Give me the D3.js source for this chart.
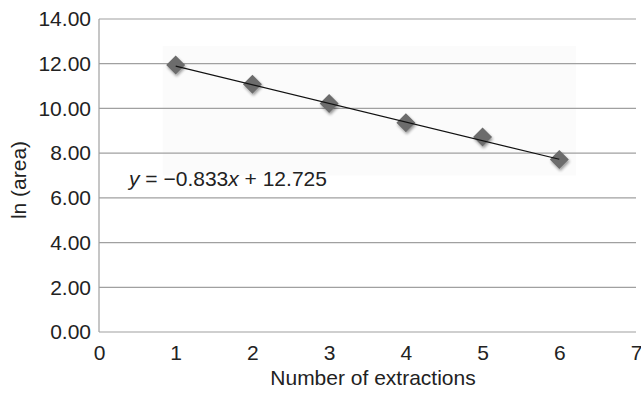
<!DOCTYPE html>
<html><head><meta charset="utf-8">
<script src="https://cdn.jsdelivr.net/npm/d3@7"></script>
<style>body{margin:0;background:#fff}svg{display:block;font-family:"Liberation Sans",Arial,sans-serif}</style>
</head><body><svg id="c" width="641" height="394"></svg>
<script>
const extractions = [1, 2, 3, 4, 5, 6];
const lnArea = [11.94, 11.08, 10.22, 9.36, 8.72, 7.72];
const slope = -0.833, intercept = 12.725;
const xTicks = [0, 1, 2, 3, 4, 5, 6, 7];
const yTicks = [0, 2, 4, 6, 8, 10, 12, 14];

const FS = 21;
const svg = d3.select("#c");
const m = {l: 99, r: 636, t: 19, b: 332};
const x = d3.scaleLinear().domain([0, 7]).range([m.l, m.r]);
const y = d3.scaleLinear().domain([0, 14]).range([m.b, m.t]);

const defs = svg.append("defs");
const f = defs.append("filter").attr("id","sh").attr("x","-50%").attr("y","-50%").attr("width","200%").attr("height","200%");
f.append("feGaussianBlur").attr("in","SourceAlpha").attr("stdDeviation",1.6).attr("result","b");
f.append("feOffset").attr("in","b").attr("dx",1).attr("dy",1.5).attr("result","o");
f.append("feComponentTransfer").attr("in","o").attr("result","o2").append("feFuncA").attr("type","linear").attr("slope",0.4);
const mg = f.append("feMerge"); mg.append("feMergeNode").attr("in","o2"); mg.append("feMergeNode").attr("in","SourceGraphic");

// faint shaded area behind points
svg.append("rect").attr("x", x(0.83)).attr("y", y(12.8)).attr("width", x(6.22)-x(0.83)).attr("height", y(7.0)-y(12.8)).attr("fill","#fbfbfb");

// gridlines
svg.append("g").selectAll("line").data(yTicks).join("line")
  .attr("x1", m.l).attr("x2", m.r).attr("y1", d=>y(d)).attr("y2", d=>y(d))
  .attr("stroke","#a0a0a0").attr("stroke-width",1.2);
svg.append("line").attr("x1",m.l).attr("x2",m.l).attr("y1",m.t).attr("y2",m.b).attr("stroke","#a0a0a0").attr("stroke-width",1.2);

// axes labels
const ya = d3.axisLeft(y).tickValues(yTicks).tickFormat(d3.format(".2f")).tickSize(0).tickPadding(8);
svg.append("g").attr("transform",`translate(${m.l},0)`).call(ya)
  .call(g=>g.select(".domain").remove())
  .call(g=>g.selectAll("text").attr("font-size",FS).attr("fill","#222").attr("font-family","Liberation Sans, Arial, sans-serif"));
const xa = d3.axisBottom(x).tickValues(xTicks).tickFormat(d3.format("d")).tickSize(0).tickPadding(13);
svg.append("g").attr("transform",`translate(0,${m.b})`).call(xa)
  .call(g=>g.select(".domain").remove())
  .call(g=>g.selectAll("text").attr("font-size",FS).attr("fill","#222").attr("font-family","Liberation Sans, Arial, sans-serif"));

// markers
const pts = extractions.map((e,i)=>({x:e, y:lnArea[i]}));
const dsz = 9.5;
svg.append("g").selectAll("path").data(pts).join("path")
  .attr("d", d=>`M${x(d.x)},${y(d.y)-dsz}L${x(d.x)+dsz},${y(d.y)}L${x(d.x)},${y(d.y)+dsz}L${x(d.x)-dsz},${y(d.y)}Z`)
  .attr("fill","#6c6c6c").attr("filter","url(#sh)");

// trendline
const x0 = d3.min(extractions), x1 = d3.max(extractions);
svg.append("line").attr("x1",x(x0)).attr("y1",y(slope*x0+intercept)).attr("x2",x(x1)).attr("y2",y(slope*x1+intercept))
  .attr("stroke","#111").attr("stroke-width",1.2);

// equation
const eq = svg.append("text").attr("x",129).attr("y",186).attr("font-size",FS).attr("fill","#222");
eq.append("tspan").attr("font-style","italic").text("y");
eq.append("tspan").text(" = \u22120.833");
eq.append("tspan").attr("font-style","italic").text("x");
eq.append("tspan").text(" + 12.725");

// axis titles
svg.append("text").attr("x",373).attr("y",385).attr("text-anchor","middle").attr("font-size",FS).attr("fill","#222").text("Number of extractions");
svg.append("text").attr("transform","translate(26,180) rotate(-90)").attr("text-anchor","middle").attr("font-size",FS).attr("fill","#222").text("ln (area)");
</script></body></html>
